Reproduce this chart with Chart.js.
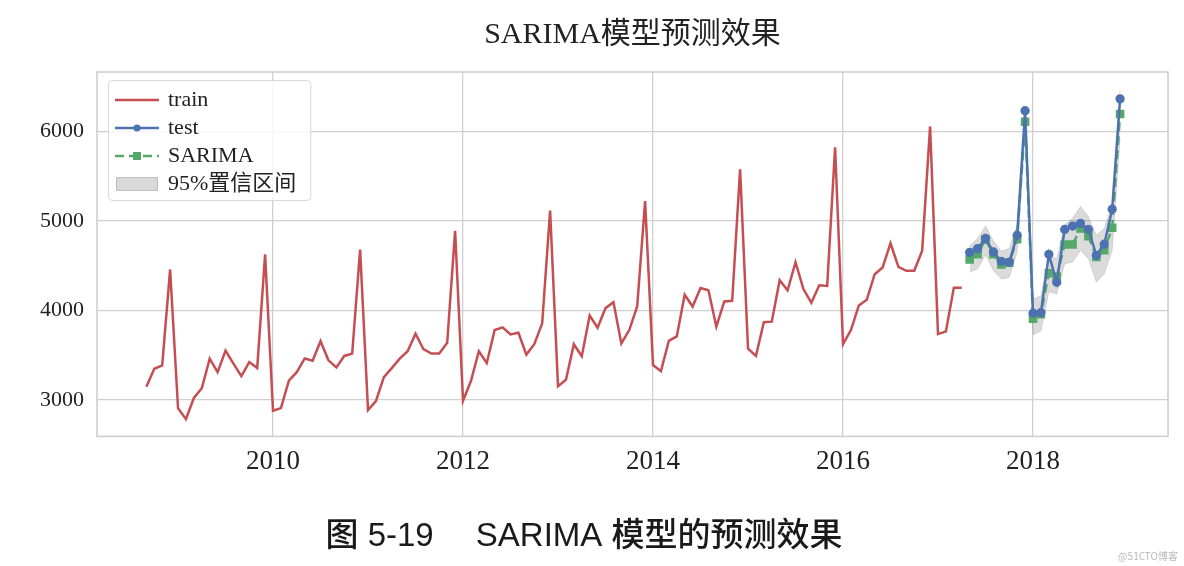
<!DOCTYPE html>
<html>
<head>
<meta charset="utf-8">
<script src="https://cdn.jsdelivr.net/npm/chart.js@4.4.0/dist/chart.umd.min.js"></script>
<style>
  html, body { margin: 0; padding: 0; background: #fff; }
  #wrap { position: relative; width: 1184px; height: 566px; }
</style>
</head>
<body>
<div id="wrap"><canvas id="chart" width="1184" height="566"></canvas></div>
<script>
//first month of each series [year, month]
var trainStart = [2008, 9];
var testStart = [2017, 5];

//monthly values
var trainValues = [
  3150, 3350, 3387, 4459,
  2910, 2786, 3023, 3132, 3462, 3312, 3553, 3406, 3267, 3425, 3357, 4628,
  2880, 2910, 3218, 3312, 3465, 3440, 3658, 3444, 3365, 3493, 3519, 4681,
  2887, 2989, 3256, 3357, 3462, 3545, 3741, 3568, 3519, 3519, 3639, 4891,
  2992, 3212, 3545, 3414, 3782, 3812, 3733, 3752, 3508, 3624, 3857, 5117,
  3154, 3226, 3624, 3489, 3944, 3808, 4027, 4094, 3632, 3782, 4045, 5222,
  3391, 3323, 3662, 3711, 4177, 4045, 4252, 4226, 3820, 4102, 4109, 5579,
  3575, 3493, 3869, 3876, 4339, 4226, 4540, 4240, 4087, 4282, 4275, 5824,
  3624, 3782, 4057, 4120, 4406, 4481, 4752, 4489, 4444, 4444, 4669, 6057,
  3737, 3767, 4256, 4256
];
var testValues = [4650, 4692, 4805, 4654, 4549, 4541, 4842, 6233, 3970, 3977,
                  4628, 4316, 4906, 4944, 4974, 4906, 4617, 4741, 5132, 6365];
var sarimaValues = [4572, 4628, 4793, 4628, 4515, 4534, 4797, 6109, 3910, 3959,
                    4417, 4380, 4737, 4737, 4917, 4831, 4598, 4673, 4925, 6196];
var ciUpper = [4722, 4805, 4944, 4778, 4662, 4692, 4955, 6250, 4128, 4165,
               4617, 4579, 4955, 5030, 5162, 5049, 4842, 4917, 5181, 6470];
var ciLower = [4429, 4466, 4624, 4447, 4353, 4372, 4654, 5970, 3733, 3771,
               4211, 4184, 4523, 4541, 4673, 4579, 4316, 4410, 4673, 5930];

//tick labels
var xTicks = [2010, 2012, 2014, 2016, 2018];
var yTicks = [3000, 4000, 5000, 6000];

var seriesNames = ['train', 'test', 'SARIMA', '95%置信区间'];
var titleText = 'SARIMA模型预测效果';
var captionText = '图 5-19　 SARIMA 模型的预测效果';

//colours (seaborn "deep")
var RED = '#c44e52', BLUE = '#4c72b0', GREEN = '#55a868';
var GRID = '#d0d0d0';
var SERIF = "'Liberation Serif', 'Noto Sans CJK SC', serif";

//turn a start month and a list of values into {x: decimal year, y}
function toPoints(start, values)
{
    return values.map(function(v, i){
        var m = start[1] - 1 + i;
        return {x: start[0] + m / 12, y: v};
    });
}

//small canvases used as legend symbols, like matplotlib's handles
function legendIcon(kind)
{
    var c = document.createElement('canvas');
    c.width = 44; c.height = 16;
    var g = c.getContext('2d');
    g.lineWidth = 2.5;
    if(kind === 'band')
    {
        g.fillStyle = 'rgba(0,0,0,0.15)';
        g.strokeStyle = 'rgba(0,0,0,0.12)';
        g.lineWidth = 1;
        g.fillRect(1, 1, 42, 14);
        g.strokeRect(1.5, 1.5, 41, 13);
        return c;
    }
    g.strokeStyle = kind === 'train' ? RED : (kind === 'test' ? BLUE : GREEN);
    if(kind === 'sarima') g.setLineDash([9, 5]);
    g.beginPath(); g.moveTo(0, 8); g.lineTo(44, 8); g.stroke();
    if(kind === 'test')
    {
        g.fillStyle = BLUE;
        g.beginPath(); g.arc(22, 8, 3.5, 0, Math.PI * 2); g.fill();
    }
    if(kind === 'sarima')
    {
        g.fillStyle = GREEN;
        g.fillRect(18, 4, 8, 8);
    }
    return c;
}
var icons = [legendIcon('train'), legendIcon('test'), legendIcon('sarima'), legendIcon('band')];

//frame round the plot area and the legend box behind the legend
var framePlugin = {
    id: 'frame',
    afterInit: function(chart){
        var legend = chart.legend;
        legend._layers = function(){
            return [{z: 0, draw: function(area){
                var ctx = chart.ctx;
                var col = legend.columnSizes && legend.columnSizes[0];
                if(col)
                {
                    var x = legend.left - 3, y = legend.top - 3;
                    var w = col.width + 23, h = col.height + 8;
                    ctx.save();
                    ctx.fillStyle = 'rgba(255,255,255,0.8)';
                    ctx.strokeStyle = '#d8d8d8';
                    ctx.lineWidth = 1;
                    ctx.beginPath();
                    ctx.roundRect(x + 0.5, y + 0.5, w, h, 4);
                    ctx.fill();
                    ctx.stroke();
                    ctx.restore();
                }
                legend.draw(area);
            }}];
        };
    },
    afterLayout: function(chart){
        //chartArea legends default to the top of the canvas, move it into the axes
        chart.legend.left = chart.chartArea.left + 14;
        chart.legend.top = chart.chartArea.top + 11;
    },
    beforeDatasetsDraw: function(chart){
        var a = chart.chartArea, ctx = chart.ctx;
        ctx.save();
        ctx.strokeStyle = '#cccccc';
        ctx.lineWidth = 1.5;
        ctx.strokeRect(a.left, a.top, a.right - a.left, a.bottom - a.top);
        ctx.restore();
    },
    afterDraw: function(chart){
        var ctx = chart.ctx;
        ctx.save();
        ctx.fillStyle = '#b8b8b8';
        ctx.font = "10px 'Noto Sans CJK SC', sans-serif";
        ctx.textAlign = 'right';
        ctx.textBaseline = 'middle';
        ctx.fillText('@51CTO博客', 1178, 556);
        ctx.restore();
    }
};

var chart = new Chart(document.getElementById('chart'), {
    type: 'line',
    data: {
        datasets: [
            {
                label: seriesNames[0],
                data: toPoints(trainStart, trainValues),
                borderColor: RED, backgroundColor: RED,
                borderWidth: 2.5, pointRadius: 0, fill: false
            },
            {
                label: seriesNames[1],
                data: toPoints(testStart, testValues),
                borderColor: BLUE, backgroundColor: BLUE,
                borderWidth: 2.5, pointRadius: 3.4, pointStyle: 'circle', fill: false
            },
            {
                label: seriesNames[2],
                data: toPoints(testStart, sarimaValues),
                borderColor: GREEN, backgroundColor: GREEN,
                borderWidth: 2.5, borderDash: [9, 5],
                pointRadius: 4.3, pointStyle: 'rect', fill: false
            },
            {
                label: seriesNames[3],
                data: toPoints(testStart, ciUpper),
                borderColor: 'rgba(0,0,0,0.12)', backgroundColor: 'rgba(0,0,0,0.14)',
                borderWidth: 1, pointRadius: 0, fill: '+1'
            },
            {
                label: 'lower',
                data: toPoints(testStart, ciLower),
                borderColor: 'rgba(0,0,0,0.12)', backgroundColor: 'rgba(0,0,0,0.14)',
                borderWidth: 1, pointRadius: 0, fill: false
            }
        ]
    },
    options: {
        responsive: false,
        animation: false,
        layout: { padding: { left: 0, right: 16, top: 0, bottom: 0 } },
        scales: {
            x: {
                type: 'linear',
                min: 2008.147, max: 2019.421,
                afterBuildTicks: function(scale){
                    scale.ticks = xTicks.map(function(v){ return {value: v}; });
                },
                afterFit: function(scale){ scale.height = 50; },
                grid: { color: GRID, lineWidth: 1.3, drawTicks: false },
                border: { display: false },
                ticks: {
                    color: '#222', padding: 9,
                    font: { family: SERIF, size: 27 },
                    maxRotation: 0,
                    callback: function(v){ return String(v); }
                }
            },
            y: {
                type: 'linear',
                min: 2594, max: 6665,
                afterBuildTicks: function(scale){
                    scale.ticks = yTicks.map(function(v){ return {value: v}; });
                },
                afterFit: function(scale){ scale.width = 97; },
                grid: { color: GRID, lineWidth: 1.3, drawTicks: false },
                border: { display: false },
                ticks: {
                    color: '#222', padding: 13,
                    font: { family: SERIF, size: 22 },
                    callback: function(v){ return String(v); }
                }
            }
        },
        plugins: {
            title: {
                display: true, text: titleText, fullSize: false,
                color: '#222',
                font: { family: SERIF, size: 30, weight: 'normal' },
                padding: { top: 17, bottom: 19 }
            },
            subtitle: {
                display: true, text: captionText, position: 'bottom',
                color: '#1a1a1a',
                font: { family: "'Liberation Sans', 'Noto Sans CJK SC', sans-serif", size: 33, weight: '500' },
                padding: { top: 31, bottom: 9 }
            },
            legend: {
                position: 'chartArea', align: 'start',
                labels: {
                    color: '#222',
                    font: { family: SERIF, size: 22 },
                    usePointStyle: true, pointStyleWidth: 40,
                    padding: 6,
                    filter: function(item){ return item.datasetIndex < 4; },
                    generateLabels: function(ch){
                        return seriesNames.map(function(name, i){
                            return {
                                text: name, datasetIndex: i,
                                pointStyle: icons[i],
                                fillStyle: 'transparent', strokeStyle: 'transparent',
                                lineWidth: 0, fontColor: '#222'
                            };
                        });
                    }
                }
            },
            tooltip: { enabled: false }
        }
    },
    plugins: [framePlugin]
});
</script>
</body>
</html>
